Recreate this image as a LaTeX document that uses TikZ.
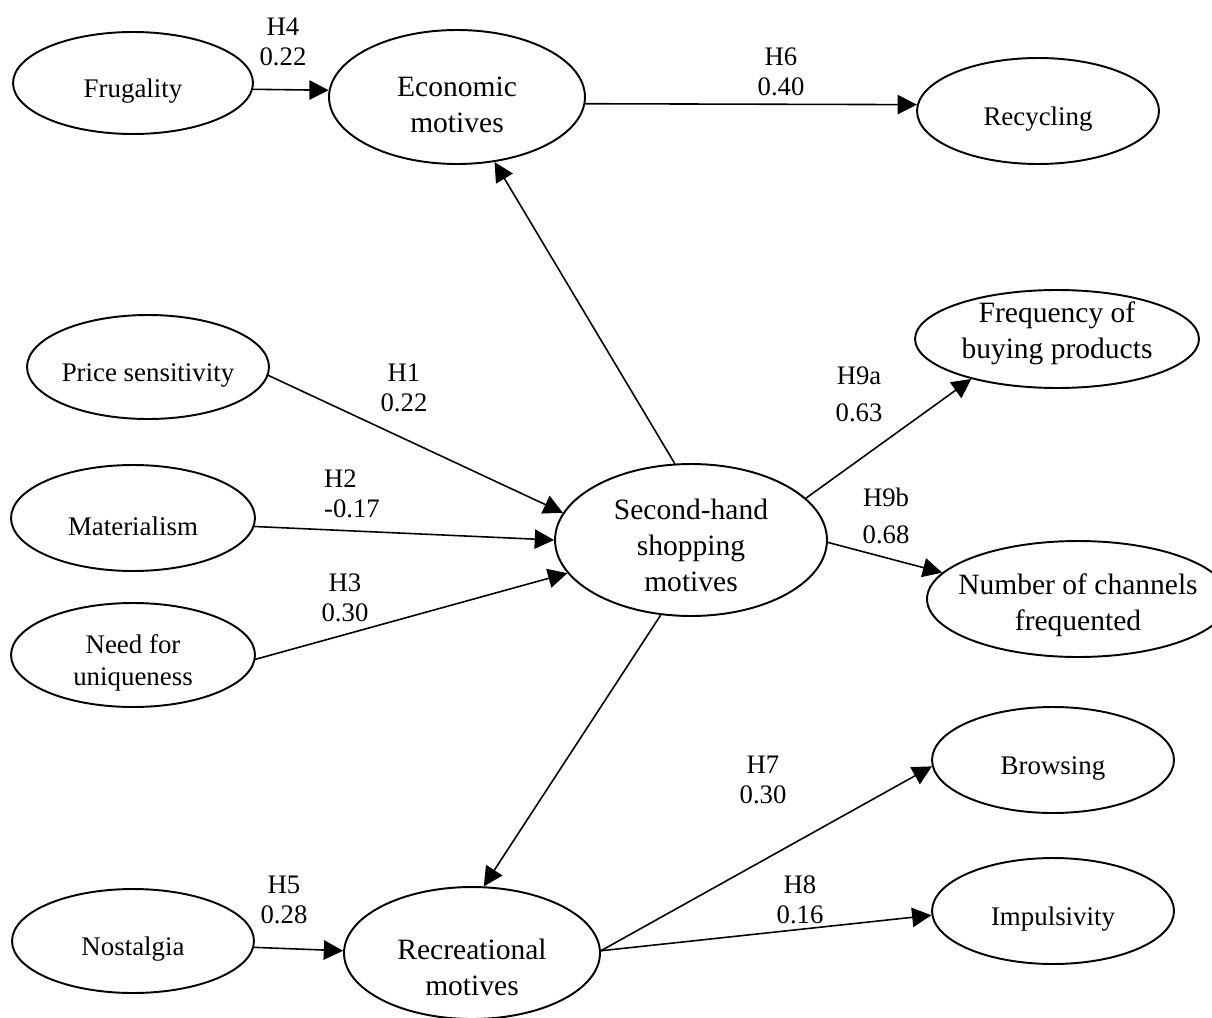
\documentclass[tikz,border=0pt]{standalone}
\usepackage{fontspec}
\setmainfont{Liberation Serif}
\usetikzlibrary{arrows.meta, shapes.geometric}

\begin{document}
\begin{tikzpicture}[x=0.02cm, y=-0.02cm, line cap=round, line join=round,
  latent/.style={ellipse, draw, line width=1.1pt, inner sep=0pt},
  small/.style={font=\fontsize{15.3}{18.2}\selectfont, align=center, yshift=-0.16cm},
  big/.style={font=\fontsize{16.8}{20.5}\selectfont, align=center, yshift=-0.16cm},
  coef/.style={font=\fontsize{15.2}{17.1}\selectfont, align=center, inner sep=0pt},
  effect/.style={-{Triangle[length=11pt, width=11pt]}, line width=0.9pt}]

\useasboundingbox (0,0) rectangle (1212,1017);

% costrutti
\node[latent, minimum width=4.8cm, minimum height=2.04cm, label={[small]center:Frugality}] (frug) at (133,83) {};
\node[latent, minimum width=5.12cm, minimum height=2.68cm, label={[big]center:{Economic\\motives}}] (econ) at (457,97) {};
\node[latent, minimum width=4.84cm, minimum height=2.12cm, label={[small]center:Recycling}] (recyc) at (1038,111) {};
\node[latent, minimum width=4.84cm, minimum height=2.08cm, label={[small]center:Price sensitivity}] (price) at (148,367) {};
\node[latent, minimum width=4.88cm, minimum height=2.12cm, label={[small]center:Materialism}] (mater) at (133,518) {};
\node[latent, minimum width=4.88cm, minimum height=2.08cm, label={[small]center:{Need for\\uniqueness}}] (need) at (133,655) {};
\node[latent, minimum width=5.44cm, minimum height=3.04cm, label={[big, yshift=0.06cm]center:{Second-hand\\shopping\\motives}}] (shm) at (691,540) {};
\node[latent, minimum width=5.68cm, minimum height=1.96cm, label={[big, yshift=0.28cm]center:{Frequency of\\buying products}}] (freq) at (1057,339) {};
\node[latent, minimum width=6.04cm, minimum height=2.32cm, label={[big, yshift=0.04cm]center:{Number of channels\\frequented}}] (numch) at (1078,599) {};
\node[latent, minimum width=4.84cm, minimum height=2.12cm, label={[small]center:Browsing}] (brows) at (1053,760) {};
\node[latent, minimum width=4.84cm, minimum height=2.12cm, label={[small]center:Impulsivity}] (impul) at (1053,911) {};
\node[latent, minimum width=4.84cm, minimum height=2.08cm, label={[small]center:Nostalgia}] (nost) at (133,941) {};
\node[latent, minimum width=5.12cm, minimum height=2.64cm, label={[big, yshift=-0.12cm]center:{Recreational\\motives}}] (recr) at (472,953) {};

% frecce
\draw[effect] (frug.-3) -- (econ.177);
\draw[effect] (econ.-3) -- (recyc.177);
\draw[effect] (shm.102) -- (econ.-60);
\draw[effect] (price.-4) -- (shm.168);
\draw[effect] (mater.-4) -- (shm.180);
\draw[effect] (need.-2) -- (shm.195);
\draw[effect] (shm.20) -- (freq.205);
\draw[effect] (shm.-1) -- (numch.169);
\draw[effect] (shm.248) -- (recr.80);
\draw[effect] (nost.-3) -- (recr.179);
\draw[effect] (recr.1) -- (brows.183);
\draw[effect] (recr.1) -- (impul.182);

% coefficienti
\node[coef] (h4) at (283,42) {H4\\0.22};
\node[coef] (h6) at (781,72) {H6\\0.40};
\node[coef] (h1) at (404,388) {H1\\0.22};
\node[coef, align=left] (h2) at (352,494) {H2\\-0.17};
\node[coef] (h3) at (345,598) {H3\\0.30};
\node[coef] (h9a) at (859,394) {H9a\\[4pt]0.63};
\node[coef] (h9b) at (886,516) {H9b\\[4pt]0.68};
\node[coef] (h7) at (763,780) {H7\\0.30};
\node[coef] (h8) at (800,900) {H8\\0.16};
\node[coef] (h5) at (284,900) {H5\\0.28};

\end{tikzpicture}
\end{document}
